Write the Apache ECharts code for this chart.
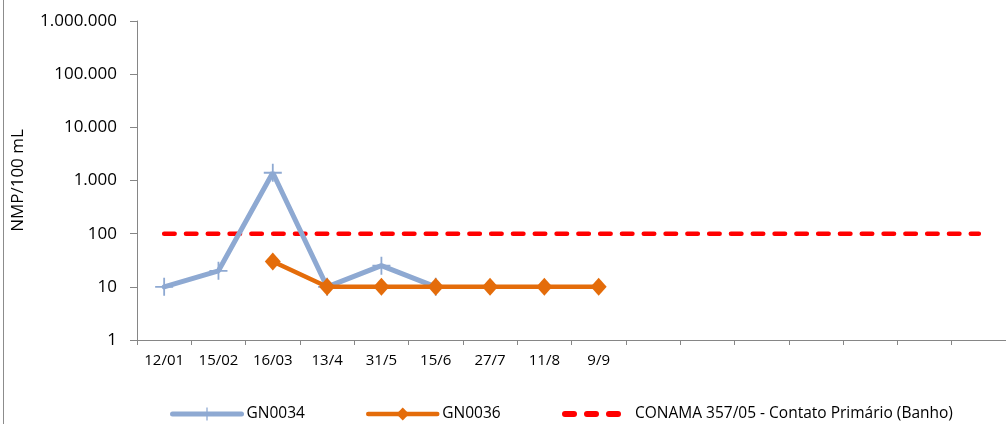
<!DOCTYPE html>
<html>
<head>
<meta charset="utf-8">
<script src="https://cdn.jsdelivr.net/npm/echarts@6/dist/echarts.min.js"></script>
<style>
html,body{margin:0;padding:0;background:#fff;}
#c{width:1006px;height:424px;}
</style>
</head>
<body>
<div id="c"></div>
<script>
var categories = ['12/01','15/02','16/03','13/4','31/5','15/6','27/7','11/8','9/9','','','','','','',''];
var gn0034 = [10, 20, 1400, 10, 25, 10, null, null, null, null, null, null, null, null, null, null];
var gn0036 = [null, null, 30, 10, 10, 10, 10, 10, 10, null, null, null, null, null, null, null];
var conama = [100, 100, 100, 100, 100, 100, 100, 100, 100, 100, 100, 100, 100, 100, 100, 100];
var yTicks = [1, 10, 100, 1000, 10000, 100000, 1000000];

var FONT = '"Open Sans", sans-serif';
var BLUE = '#8EA9D2', ORANGE = '#E46C0A', RED = '#FF0000', AXIS = '#868686';
var cross = 'path://M-0.9,-9 L0.9,-9 L0.9,-0.9 L9,-0.9 L9,0.9 L0.9,0.9 L0.9,9 L-0.9,9 L-0.9,0.9 L-9,0.9 L-9,-0.9 L-0.9,-0.9 Z';
var dashIcon = 'path://M3,0 L12,0 A3,3 0 0 1 12,6 L3,6 A3,3 0 0 1 3,0 Z M25,0 L34,0 A3,3 0 0 1 34,6 L25,6 A3,3 0 0 1 25,0 Z M47,0 L56,0 A3,3 0 0 1 56,6 L47,6 A3,3 0 0 1 47,0 Z';
var CONAMA_NAME = 'CONAMA 357/05 - Contato Primário (Banho)';

function fmt(v){
  return String(Math.round(v)).replace(/\B(?=(\d{3})+(?!\d))/g, '.');
}

var chart = echarts.init(document.getElementById('c'), null, {renderer:'canvas'});
var legendBase = {
  top: 406, padding: 0, itemWidth: 69, itemHeight: 16, itemGap: 5,
  textStyle: {fontFamily: FONT, fontSize: 15.5, color: '#000'},
  selectedMode: false
};
chart.setOption({
  animation: false,
  backgroundColor: '#fff',
  textStyle: {fontFamily: FONT},
  grid: {left: 137, right: -5, top: 21, bottom: 84, containLabel: false},
  xAxis: {
    type: 'category',
    data: categories,
    boundaryGap: true,
    axisLine: {lineStyle: {color: AXIS, width: 1}},
    axisTick: {show: true, length: 5, lineStyle: {color: AXIS}, interval: 0},
    axisLabel: {interval: 0, fontFamily: FONT, fontSize: 15, color: '#000', margin: 13}
  },
  yAxis: {
    type: 'log',
    logBase: 10,
    min: yTicks[0],
    max: yTicks[yTicks.length - 1],
    splitNumber: 6,
    name: 'NMP/100 mL',
    nameLocation: 'middle',
    nameRotate: 90,
    nameGap: 110,
    nameTextStyle: {fontFamily: FONT, fontSize: 17, color: '#000'},
    axisLine: {show: true, lineStyle: {color: AXIS, width: 1}},
    axisTick: {show: true, length: 7, lineStyle: {color: AXIS}},
    splitLine: {show: false},
    axisLabel: {fontFamily: FONT, fontSize: 17, color: '#000', margin: 20, formatter: fmt}
  },
  legend: [
    Object.assign({}, legendBase, {left: 170, data: ['GN0034'], lineStyle: {width: 5, cap: 'round'}}),
    Object.assign({}, legendBase, {left: 366, data: ['GN0036'], lineStyle: {width: 4.5, cap: 'round'}}),
    Object.assign({}, legendBase, {
      left: 562, itemWidth: 59, itemHeight: 6,
      data: [{name: CONAMA_NAME, icon: dashIcon, itemStyle: {color: RED}}],
      textStyle: {fontFamily: FONT, fontSize: 15.5, color: '#000', padding: [0, 0, 0, 9]}
    })
  ],
  graphic: [{
    type: 'line', shape: {x1: 3.5, y1: 0, x2: 3.5, y2: 424},
    style: {stroke: '#8C8C8C', lineWidth: 1}, silent: true
  }],
  series: [
    {
      name: CONAMA_NAME,
      type: 'line', data: conama, symbol: 'none', z: 1,
      lineStyle: {color: RED, width: 4.5, type: [10.5, 11.3], cap: 'round'},
      itemStyle: {color: RED}
    },
    {
      name: 'GN0034',
      type: 'line', data: gn0034, connectNulls: false, z: 2,
      symbol: cross, symbolSize: 18,
      lineStyle: {color: BLUE, width: 5, cap: 'round'},
      itemStyle: {color: BLUE}
    },
    {
      name: 'GN0036',
      type: 'line', data: gn0036, z: 3,
      symbol: 'diamond', symbolSize: [16, 18],
      lineStyle: {color: ORANGE, width: 4.5},
      itemStyle: {color: ORANGE}
    }
  ]
});
</script>
</body>
</html>
